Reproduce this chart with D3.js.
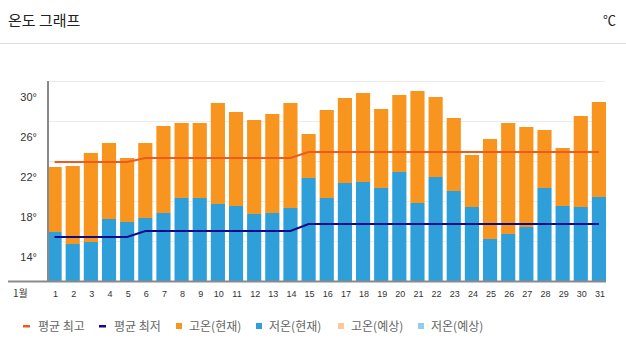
<!DOCTYPE html>
<html><head><meta charset="utf-8">
<script src="https://cdn.jsdelivr.net/npm/d3@7"></script>
<style>
html,body{margin:0;padding:0;background:#fff;}
svg{display:block;}
</style></head>
<body>
<svg id="chart" width="626" height="354"></svg>
<script>
const days = d3.range(1, 32);
const highNow = [23.4,23.5,24.8,25.8,24.3,25.8,27.5,27.8,27.8,29.8,28.9,28.1,28.7,29.8,26.7,29.1,30.3,30.8,29.2,30.6,31.0,30.4,28.3,24.6,26.2,27.8,27.4,27.1,25.3,28.5,29.9];
const lowNow  = [16.9,15.7,15.9,18.2,17.9,18.3,18.8,20.3,20.3,19.7,19.5,18.7,18.8,19.3,22.3,20.3,21.8,21.9,21.3,22.9,19.8,22.4,21.0,19.4,16.2,16.7,17.4,21.3,19.5,19.4,20.4];
const avgMax  = [23.9,23.9,23.9,23.9,23.9,24.3,24.3,24.3,24.3,24.3,24.3,24.3,24.3,24.3,24.9,24.9,24.9,24.9,24.9,24.9,24.9,24.9,24.9,24.9,24.9,24.9,24.9,24.9,24.9,24.9,24.9];
const avgMin  = [16.4,16.4,16.4,16.4,16.4,17.0,17.0,17.0,17.0,17.0,17.0,17.0,17.0,17.0,17.7,17.7,17.7,17.7,17.7,17.7,17.7,17.7,17.7,17.7,17.7,17.7,17.7,17.7,17.7,17.7,17.7];
const yTickLabels = [14, 18, 22, 26, 30];
const gridValues = [16, 20, 24, 28, 32];
const monthLabel = "1월";
const legendItems = [
  {label:"평균 최고", type:"line", color:"#f05a1e"},
  {label:"평균 최저", type:"line", color:"#0b0b8c"},
  {label:"고온(현재)", type:"rect", color:"#f7951e"},
  {label:"저온(현재)", type:"rect", color:"#2e9fd9"},
  {label:"고온(예상)", type:"rect", color:"#fdc996"},
  {label:"저온(예상)", type:"rect", color:"#94cdea"}
];

const svg = d3.select("#chart");
const KR = "'Noto Sans CJK KR','Noto Sans',sans-serif";
const NARROW = "'Liberation Sans Narrow','Liberation Sans',sans-serif";

// header
svg.append("text").attr("x", 8).attr("y", 26).attr("font-family", KR)
  .attr("font-size", 15).attr("fill", "#222").text("온도 그래프");
svg.append("text").attr("x", 616).attr("y", 25).attr("text-anchor", "end").attr("font-family", KR)
  .attr("font-size", 13).attr("fill", "#222").text("℃");
svg.append("line").attr("x1", 0).attr("x2", 626).attr("y1", 43.5).attr("y2", 43.5)
  .attr("stroke", "#dcdcdc").attr("stroke-width", 1);

const x = d3.scaleBand().domain(days).range([47.5, 606]).paddingInner(0.22).paddingOuter(0);
const y = d3.scaleLinear().domain([12, 32]).range([281, 81]);

// grid
svg.append("g").selectAll("line").data(gridValues).join("line")
  .attr("x1", 48).attr("x2", 605)
  .attr("y1", d => y(d) + 0.5).attr("y2", d => y(d) + 0.5)
  .attr("stroke", "#ececec").attr("stroke-width", 1);

// y tick labels (baseline at value)
svg.append("g").selectAll("text").data(yTickLabels).join("text")
  .attr("x", 37).attr("y", d => y(d)).attr("text-anchor", "end")
  .attr("font-family", NARROW).attr("font-size", 11).attr("fill", "#333")
  .text(d => d + "°");

// bars
const bars = svg.append("g");
bars.selectAll("rect.low").data(days).join("rect").attr("class", "low")
  .attr("x", d => x(d)).attr("width", x.bandwidth())
  .attr("y", (d, i) => y(lowNow[i])).attr("height", (d, i) => y(12) - y(lowNow[i]))
  .attr("fill", "#2e9fd9");
bars.selectAll("rect.high").data(days).join("rect").attr("class", "high")
  .attr("x", d => x(d)).attr("width", x.bandwidth())
  .attr("y", (d, i) => y(highNow[i])).attr("height", (d, i) => y(lowNow[i]) - y(highNow[i]))
  .attr("fill", "#f7951e");

// axes lines
svg.append("line").attr("x1", 48).attr("x2", 48).attr("y1", 81).attr("y2", 282)
  .attr("stroke", "#8a8a8a").attr("stroke-width", 2);
svg.append("line").attr("x1", 8).attr("x2", 606).attr("y1", 281.5).attr("y2", 281.5)
  .attr("stroke", "#8a8a8a").attr("stroke-width", 2);

// average lines
const cx = d => x(d) + x.bandwidth() / 2;
const lineMax = d3.line().x((d, i) => cx(days[i])).y(d => y(d));
svg.append("path").datum(avgMax).attr("d", lineMax).attr("fill", "none")
  .attr("stroke", "#f05a1e").attr("stroke-width", 2);
svg.append("path").datum(avgMin).attr("d", lineMax).attr("fill", "none")
  .attr("stroke", "#0b0b8c").attr("stroke-width", 2);

// x labels
svg.append("text").attr("x", 13).attr("y", 297).attr("font-family", KR)
  .attr("font-size", 10).attr("fill", "#333").text(monthLabel);
svg.append("g").selectAll("text").data(days).join("text")
  .attr("x", d => cx(d) + 1).attr("y", 297).attr("text-anchor", "middle")
  .attr("font-family", NARROW).attr("font-size", 9).attr("fill", "#333")
  .text(d => d);

// legend
const legX = [23, 99, 176, 256, 338, 418];
const lg = svg.append("g");
legendItems.forEach((it, i) => {
  const g = lg.append("g").attr("transform", `translate(${legX[i]},326)`);
  if (it.type === "line") {
    g.append("rect").attr("x", 0).attr("y", -1).attr("width", 7).attr("height", 2.5).attr("fill", it.color);
  } else {
    g.append("rect").attr("x", 0).attr("y", -3).attr("width", 6).attr("height", 6).attr("fill", it.color);
  }
  g.append("text").attr("x", it.type === "line" ? 15 : 13).attr("y", 4.5)
    .attr("font-family", KR).attr("font-size", 12).attr("fill", "#666").text(it.label);
});
</script>
</body></html>
